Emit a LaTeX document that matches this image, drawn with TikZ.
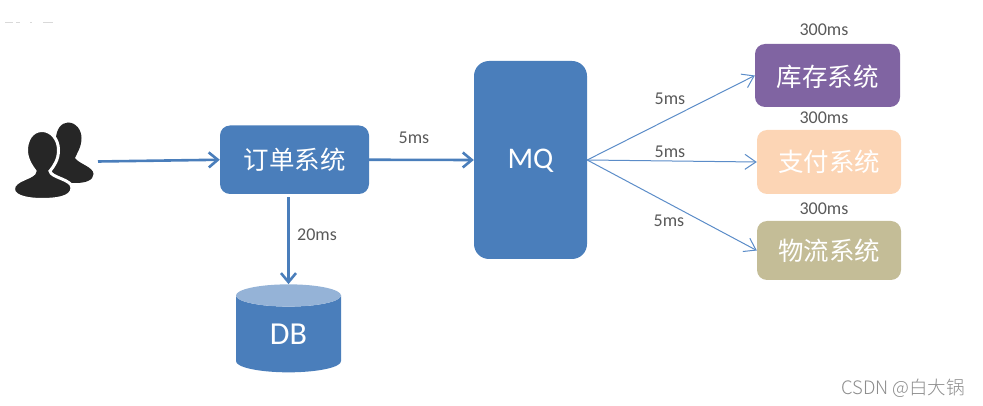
\documentclass[tikz,border=0pt]{standalone}
\usepackage{fontspec}
\setmainfont{Carlito}
\newfontfamily\cjk{Noto Sans CJK SC}
\newfontfamily\cjklight{Noto Sans CJK SC Light}
\usetikzlibrary{arrows.meta,shapes.geometric}
\definecolor{boxblue}{HTML}{4A7EBB}
\definecolor{dbtop}{HTML}{95B3D7}
\definecolor{purp}{HTML}{8064A2}
\definecolor{peach}{HTML}{FCD5B5}
\definecolor{khaki}{HTML}{C4BD97}
\definecolor{lbl}{HTML}{595959}
\definecolor{thinblue}{HTML}{5B8CC8}
\definecolor{dark}{HTML}{262626}
\tikzset{
  sysbox/.style={rounded corners=10pt,inner sep=0pt,text=white,font=\fontsize{25.5}{28}\selectfont\cjk},
  lab/.style={text=lbl,inner sep=0pt,font=\fontsize{18}{20}\selectfont},
  thick arrow/.style={draw=boxblue,line width=2.6pt,-{Straight Barb[length=9pt,width=15pt,line width=2.6pt]}},
  thin arrow/.style={draw=thinblue,line width=1pt,-{Straight Barb[length=11pt,width=15pt,line width=1pt]}},
}
\begin{document}
\begin{tikzpicture}[x=1pt,y=-1pt]
\useasboundingbox (0,0) rectangle (983,406);
% cropped remnants at top left
\draw[gray!30,line width=1pt] (5,22.5)--(13,22.5) (16,22.5)--(20,22.5) (30,22.5)--(32,22.5) (43,22.5)--(53,22.5);
% user icon
\fill[dark] (68,122.5) .. controls (61,122.5) and (56,130) .. (56,139)
  .. controls (56,146) and (50,160) .. (50,170) .. controls (55,180) and (66,183) .. (76,183)
  .. controls (86,183) and (93.5,180) .. (93.5,174) .. controls (93.5,167) and (79,164) .. (75,158)
  .. controls (77,153) and (81.5,147) .. (81.5,138) .. controls (81.5,130) and (76,122.5) .. (68,122.5) -- cycle;
\fill[dark,draw=white,line width=3pt] (42,130.5) .. controls (32,130.5) and (26,140) .. (26.5,152)
  .. controls (27.5,161) and (32,167) .. (35,171) .. controls (35,178) and (13.5,179) .. (13.5,189)
  .. controls (13.5,198) and (32,199.5) .. (42,199.5) .. controls (55,199.5) and (72,198) .. (72,188)
  .. controls (72,179) and (51,178) .. (50,171) .. controls (54,166) and (58.5,160) .. (58.5,150)
  .. controls (58.5,139) and (51,130.5) .. (42,130.5) -- cycle;
\coordinate (user) at (98,161.5);
% boxes
\node[sysbox,fill=boxblue,minimum width=149pt,minimum height=68.5pt] (order) at (294.5,159.75) {订单系统};
\node[sysbox,fill=boxblue,rounded corners=15pt,minimum width=113pt,minimum height=198pt,font=\fontsize{30}{32}\selectfont,text depth=0pt,text height=17pt] (mq) at (530.5,160) {MQ};
\node[sysbox,fill=purp,minimum width=145pt,minimum height=63pt,text height=24.4pt,text depth=3pt] (stock) at (827.5,75.5) {库存系统};
\node[sysbox,fill=peach,minimum width=144pt,minimum height=64pt] (pay) at (829,162) {支付系统};
\node[sysbox,fill=khaki,minimum width=144pt,minimum height=59pt] (logi) at (829,250.5) {物流系统};
\node[shape=cylinder,shape border rotate=90,aspect=0.6,cylinder uses custom fill,cylinder body fill=boxblue,cylinder end fill=dbtop,
  minimum width=105pt,minimum height=88pt,inner sep=0pt,text=white,font=\fontsize{32}{34}\selectfont] (db) at (288.5,334) {DB};
% connectors
\draw[thick arrow] (user) -- (order.west);
\draw[thick arrow] (order.east) -- (mq.west);
\draw[thick arrow,shorten <=3pt] (db.north |- order.south) -- (db.north);
\draw[thin arrow] (mq.east) -- (stock.west);
\draw[thin arrow] (mq.east) -- (pay.west);
\draw[thin arrow] (mq.east) -- (logi.west);
% labels
\node[lab] (l1) at (414,138) {5ms};
\node[lab] (l2) at (317,235) {20ms};
\node[lab] (l3) at (670,99) {5ms};
\node[lab] (l4) at (670,152) {5ms};
\node[lab] (l5) at (669,221) {5ms};
\node[lab] (t1) at (824,30) {300ms};
\node[lab] (t2) at (824,118) {300ms};
\node[lab] (t3) at (824,208.5) {300ms};
\node[inner sep=0pt,text=gray!90,font=\fontsize{18.5}{20}\selectfont\cjklight] (wm) at (903,388) {CSDN @白大锅};
\end{tikzpicture}
\end{document}
